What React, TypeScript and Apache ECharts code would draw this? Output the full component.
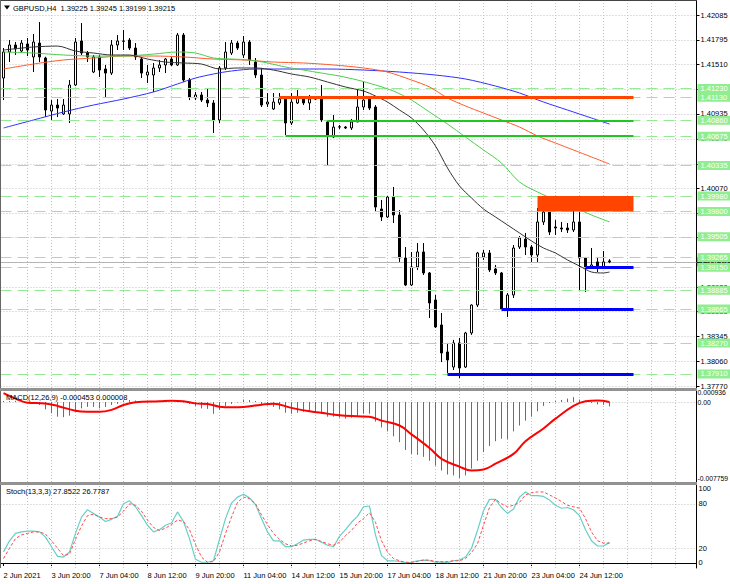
import { useEffect, useRef } from 'react';
import * as echarts from 'echarts';

// ---------- categories (H4 bars) ----------
const dayNames = ['2 Jun', '3 Jun', '4 Jun', '7 Jun', '8 Jun', '9 Jun', '10 Jun', '11 Jun', '14 Jun', '15 Jun', '16 Jun', '17 Jun', '18 Jun', '21 Jun', '22 Jun', '23 Jun', '24 Jun', '25 Jun'];
const hourNames = ['00:00', '04:00', '08:00', '12:00', '16:00', '20:00'];
const timeLabels = ['2 Jun 2021', '3 Jun 20:00', '7 Jun 04:00', '8 Jun 12:00', '9 Jun 20:00', '11 Jun 04:00', '14 Jun 12:00', '15 Jun 20:00', '17 Jun 04:00', '18 Jun 12:00', '21 Jun 20:00', '23 Jun 04:00', '24 Jun 12:00'];

// ---------- OHLC ----------
const opens = [1.41352, 1.41655, 1.41736, 1.41666, 1.41748, 1.41597, 1.41759, 1.41585, 1.40968, 1.41038, 1.40934, 1.40934, 1.41271, 1.41783, 1.41643, 1.41422, 1.41597, 1.41457, 1.41410, 1.41736, 1.41783, 1.41794, 1.41701, 1.41573, 1.41387, 1.41387, 1.41469, 1.41504, 1.41573, 1.41504, 1.41852, 1.41329, 1.41120, 1.41155, 1.41096, 1.41062, 1.40864, 1.41469, 1.41643, 1.41759, 1.41620, 1.41771, 1.41538, 1.41387, 1.41050, 1.40992, 1.41062, 1.41108, 1.40829, 1.41062, 1.41108, 1.41062, 1.41108, 1.41131, 1.40841, 1.40666, 1.40782, 1.40782, 1.40771, 1.40841, 1.41015, 1.41108, 1.41015, 1.39829, 1.39736, 1.39968, 1.39759, 1.39259, 1.38945, 1.39155, 1.39329, 1.39085, 1.38771, 1.38480, 1.38166, 1.37991, 1.38271, 1.37991, 1.38387, 1.38712, 1.39271, 1.39317, 1.39131, 1.39085, 1.38654, 1.38829, 1.39387, 1.39480, 1.39387, 1.39294, 1.39678, 1.39794, 1.39620, 1.39608, 1.39608, 1.39585, 1.39678, 1.39259, 1.39155, 1.39213, 1.39155, 1.39225];
const highs = [1.41701, 1.41794, 1.41771, 1.41794, 1.41817, 1.41864, 1.42004, 1.41600, 1.41096, 1.41108, 1.41108, 1.41329, 1.41817, 1.41992, 1.41666, 1.41620, 1.41620, 1.41504, 1.41794, 1.41852, 1.41911, 1.41817, 1.41759, 1.41597, 1.41504, 1.41527, 1.41562, 1.41585, 1.41597, 1.41876, 1.41876, 1.41352, 1.41190, 1.41190, 1.41236, 1.41096, 1.41492, 1.41771, 1.41794, 1.41783, 1.41841, 1.41794, 1.41585, 1.41469, 1.41178, 1.41178, 1.41178, 1.41131, 1.41178, 1.41213, 1.41131, 1.41155, 1.41131, 1.41271, 1.40864, 1.40922, 1.40806, 1.40794, 1.40876, 1.41213, 1.41306, 1.41131, 1.41038, 1.39934, 1.39980, 1.40085, 1.39817, 1.39387, 1.39329, 1.39433, 1.39433, 1.39096, 1.38829, 1.38619, 1.38271, 1.38306, 1.38329, 1.38400, 1.38720, 1.39330, 1.39352, 1.39352, 1.39178, 1.39096, 1.38852, 1.39410, 1.39515, 1.39550, 1.39410, 1.39840, 1.39957, 1.39957, 1.39700, 1.39678, 1.39666, 1.39852, 1.39794, 1.39271, 1.39375, 1.39259, 1.39340, 1.39245];
const lows = [1.41096, 1.41538, 1.41620, 1.41643, 1.41608, 1.41422, 1.41538, 1.40899, 1.40864, 1.40899, 1.40922, 1.40829, 1.41259, 1.41620, 1.41538, 1.41410, 1.41364, 1.41131, 1.41387, 1.41678, 1.41678, 1.41678, 1.41562, 1.41352, 1.41294, 1.41190, 1.41422, 1.41410, 1.41492, 1.41492, 1.41306, 1.41096, 1.41096, 1.41073, 1.41015, 1.40713, 1.40829, 1.41445, 1.41620, 1.41678, 1.41585, 1.41504, 1.41352, 1.41015, 1.41015, 1.40980, 1.41038, 1.40689, 1.40806, 1.41050, 1.41038, 1.40980, 1.41096, 1.40841, 1.40341, 1.40654, 1.40759, 1.40759, 1.40748, 1.40841, 1.40980, 1.40980, 1.39794, 1.39689, 1.39724, 1.39666, 1.39213, 1.38933, 1.38933, 1.39120, 1.39061, 1.38561, 1.38445, 1.38049, 1.37922, 1.37956, 1.37863, 1.37980, 1.38364, 1.38689, 1.39236, 1.39096, 1.39061, 1.38654, 1.38573, 1.38794, 1.39364, 1.39294, 1.39213, 1.39213, 1.39643, 1.39526, 1.39526, 1.39561, 1.39550, 1.39561, 1.38887, 1.38864, 1.39131, 1.39096, 1.39143, 1.39199];
const closes = [1.41655, 1.41736, 1.41690, 1.41759, 1.41678, 1.41771, 1.41597, 1.40980, 1.41038, 1.41003, 1.41038, 1.41271, 1.41771, 1.41643, 1.41597, 1.41597, 1.41445, 1.41410, 1.41736, 1.41783, 1.41780, 1.41701, 1.41597, 1.41410, 1.41422, 1.41469, 1.41504, 1.41573, 1.41504, 1.41852, 1.41329, 1.41131, 1.41155, 1.41096, 1.41062, 1.40864, 1.41469, 1.41655, 1.41759, 1.41701, 1.41771, 1.41562, 1.41387, 1.41038, 1.41073, 1.41073, 1.41108, 1.40829, 1.41073, 1.41120, 1.41062, 1.41108, 1.41110, 1.40864, 1.40689, 1.40782, 1.40785, 1.40771, 1.40841, 1.41015, 1.41096, 1.41003, 1.39852, 1.39736, 1.39968, 1.39759, 1.39259, 1.38945, 1.39155, 1.39329, 1.39085, 1.38736, 1.38457, 1.38154, 1.38073, 1.38271, 1.37980, 1.38387, 1.38712, 1.39317, 1.39317, 1.39120, 1.39085, 1.38666, 1.38829, 1.39375, 1.39492, 1.39387, 1.39294, 1.39678, 1.39794, 1.39561, 1.39608, 1.39596, 1.39585, 1.39678, 1.39259, 1.39143, 1.39178, 1.39143, 1.39213, 1.39215];

// ---------- moving averages (bar index, price) ----------
const maBlack = [[0, 1.41678], [5, 1.41713], [9, 1.41724], [12, 1.41666], [15, 1.41643], [18, 1.41620], [21, 1.41620], [24, 1.41573], [27, 1.41538], [30, 1.41527], [33, 1.41515], [36, 1.41457], [39, 1.41469], [42, 1.41469], [45, 1.41445], [48, 1.41399], [51, 1.41364], [54, 1.41306], [57, 1.41248], [60, 1.41201], [62, 1.41143], [64, 1.41073], [66, 1.40980], [68, 1.40887], [70, 1.40748], [72, 1.40562], [74, 1.40306], [76, 1.40097], [78, 1.39957], [80, 1.39829], [82, 1.39736], [84, 1.39643], [86, 1.39550], [88, 1.39457], [90, 1.39375], [92, 1.39317], [94, 1.39236], [96, 1.39166], [98, 1.39096], [100, 1.39085], [101, 1.39096]];
const maGreen = [[0, 1.41655], [5, 1.41643], [10, 1.41620], [15, 1.41608], [20, 1.41608], [25, 1.41631], [29, 1.41655], [32, 1.41643], [35, 1.41585], [38, 1.41573], [41, 1.41562], [44, 1.41527], [47, 1.41480], [50, 1.41445], [53, 1.41410], [56, 1.41375], [59, 1.41329], [62, 1.41271], [65, 1.41201], [68, 1.41096], [71, 1.40957], [74, 1.40817], [77, 1.40666], [80, 1.40515], [83, 1.40364], [86, 1.40143], [89, 1.40027], [92, 1.39934], [95, 1.39852], [98, 1.39759], [101, 1.39678]];
const maOrange = [[0, 1.41457], [5, 1.41515], [10, 1.41562], [15, 1.41585], [20, 1.41608], [25, 1.41608], [30, 1.41597], [35, 1.41573], [40, 1.41562], [45, 1.41538], [50, 1.41527], [55, 1.41504], [60, 1.41469], [64, 1.41422], [68, 1.41329], [71, 1.41248], [74, 1.41120], [77, 1.41027], [80, 1.40945], [83, 1.40864], [86, 1.40782], [89, 1.40678], [92, 1.40596], [95, 1.40515], [98, 1.40434], [101, 1.40352]];
const maBlue = [[0, 1.40771], [5, 1.40864], [10, 1.40957], [15, 1.41038], [20, 1.41108], [25, 1.41190], [29, 1.41283], [32, 1.41352], [35, 1.41399], [38, 1.41434], [42, 1.41457], [48, 1.41457], [54, 1.41457], [60, 1.41445], [66, 1.41422], [72, 1.41387], [77, 1.41341], [82, 1.41259], [86, 1.41178], [90, 1.41073], [94, 1.40980], [98, 1.40887], [101, 1.40817]];

// ---------- MACD ----------
const macdHist = [0.0001, 0.0001, 0.00012, 0.00005, -0.0001, -0.0002, -0.0003, -0.00075, -0.00115, -0.0015, -0.00155, -0.0014, -0.001, -0.00065, -0.0005, -0.0005, -0.00065, -0.0005, -0.0003, -0.0002, 0.00014, 0.0002, 0.00015, 0.00005, -0.00005, 0.00003, 0.00005, 0.00008, 0.00006, 0.0001, -0.00005, -0.0002, -0.0004, -0.00065, -0.0007, -0.0012, -0.0008, -0.0004, -0.0002, -0.00005, 0.00025, 0.0002, 0.0001, -0.00025, -0.00035, -0.0005, -0.00075, -0.0011, -0.0012, -0.0011, -0.001, -0.00095, -0.001, -0.0012, -0.0015, -0.0015, -0.0016, -0.0017, -0.0016, -0.0014, -0.0012, -0.0012, -0.002, -0.0026, -0.003, -0.0035, -0.0041, -0.0049, -0.0053, -0.0054, -0.0056, -0.006, -0.0065, -0.007, -0.0074, -0.0075, -0.007759, -0.0075, -0.0068, -0.006, -0.0051, -0.0045, -0.004, -0.00375, -0.0038, -0.003, -0.0024, -0.0019, -0.0015, -0.00095, -0.0004, -0.0001, 0.0001, 0.0002, 0.00035, 0.0005, 0.00025, 0.00005, -0.0001, -0.00025, -0.0003, -0.000453];
const macdSignal = [[0, 0.0009], [2, 0.00035], [4, -0.00007], [7, -0.00015], [9, -0.0004], [12, -0.0009], [14, -0.001], [16, -0.001], [18, -0.0008], [20, -0.0003], [22, -0.00003], [26, 0.00007], [28, 0.00014], [30, 0.00008], [32, -0.00014], [34, -0.0002], [36, -0.00048], [38, -0.00054], [40, -0.0005], [43, -0.00027], [45, -0.00017], [48, -0.0006], [51, -0.00095], [53, -0.0011], [56, -0.00136], [59, -0.00146], [61, -0.0015], [63, -0.0019], [66, -0.0024], [68, -0.0033], [71, -0.0047], [73, -0.0058], [76, -0.0066], [78, -0.007], [80, -0.0069], [82, -0.0063], [85, -0.0053], [87, -0.004], [90, -0.0027], [92, -0.0017], [95, -0.0004], [97, 0.00007], [99, 0.00015], [101, 0.000008]];

// ---------- Stochastic ----------
const stochK = [15, 30, 40, 42, 43, 43, 42, 35, 22, 9, 8, 15, 40, 62, 72, 67, 62, 56, 59, 63, 80, 84, 76, 64, 51, 42, 45, 51, 54, 69, 56, 33, 5, 1, 1, 3, 32, 60, 81, 89, 93, 88, 79, 60, 42, 30, 30, 22, 22, 26, 31, 32, 32, 28, 24, 22, 36, 45, 55, 63, 76, 77, 38, 10, 3, 3, 2, 0.5, 1, 3, 4, 3, 1, 1.5, 0.5, 3, 4, 8, 20, 44, 71, 86, 86, 75, 67, 73, 89, 96, 91, 91, 90, 85, 78, 74, 75, 72, 64, 45, 30, 23, 23, 27.85];
const stochD = [6, 20, 33, 38, 40, 42, 42, 39, 30, 20, 10, 12, 32, 50, 64, 66, 62, 60, 60, 62, 70, 80, 78, 70, 58, 48, 44, 47, 52, 58, 56, 45, 25, 8, 1, 2, 15, 40, 62, 82, 89, 87, 80, 65, 52, 40, 32, 26, 23, 24, 27, 30, 32, 29, 26, 24, 28, 37, 44, 54, 60, 68, 55, 30, 15, 6, 3, 1, 1, 2, 4, 4, 2, 1.5, 2, 3, 3, 6, 14, 26, 51, 75, 86, 80, 76, 78, 82, 92, 95, 96, 96, 92, 88, 83, 78, 76, 74, 60, 42, 30, 27, 26.78];

// ---------- price scale & levels ----------
const priceTicks = [1.42085, 1.41795, 1.4151, 1.4122, 1.40935, 1.40645, 1.40355, 1.4007, 1.3978, 1.39495, 1.39205, 1.3892, 1.38635, 1.38345, 1.3806, 1.3777];
const greenLevels = [1.4123, 1.4113, 1.4086, 1.40675, 1.40335, 1.3998, 1.398, 1.39505, 1.39265, 1.3915, 1.38885, 1.38665, 1.3827, 1.3791];
const lastPrice = 1.39215;
const resistancePrice = 1.4113;
const resistanceFrom = 46;
const greenLinePrices = [1.4086, 1.40675];
const greenLineFrom = [54, 47];
const supportPrices = [1.3915, 1.38665, 1.3791];
const supportFrom = [97, 83, 74];
const zoneTop = 1.3998;
const zoneBottom = 1.398;
const zoneFrom = 89;
const objectsEnd = 105;
const macdTicks = [0.000936, 0, -0.007759];
const stochTicks = [100, 80, 20, 0];
const stochLevels = [80, 20];

const FONT = "'Liberation Sans',Arial,sans-serif";
const FS = 7.5;
const N_BARS = 102;
const N_CATS = 116;

function buildOption() {
  const allTimes: string[] = [];
  dayNames.forEach((d) => hourNames.forEach((h) => allTimes.push(d + ' ' + h)));
  const bars = allTimes.slice(3, 3 + N_BARS);
  const cats = bars.concat(Array.from({ length: N_CATS - N_BARS }, (_, k) => '+' + k));
  const ohlc = opens.map((o, i) => [o, closes[i], lows[i], highs[i]]);
  const histData = macdHist.map((v, i) => [i, v]);

  const vGrid: number[] = [];
  for (let i = 4; i <= 112; i += 4) vGrid.push(i);

  const dotted = { color: '#c2c2c2', width: 1, type: [1, 2] };
  const mlBase = { silent: true, symbol: ['none', 'none'], animation: false, precision: 6 };
  const labelInterval = (idx: number) => idx % 8 === 0 && idx <= 96;

  const xBase = (gi: number) => ({
    type: 'category',
    gridIndex: gi,
    data: cats,
    boundaryGap: true,
    axisLine: { show: false },
    axisTick: { show: false },
    axisLabel: { show: false },
    splitLine: { show: false },
  });

  const vLines = vGrid.map((i) => ({ xAxis: i }));

  const series: any[] = [
    {
      type: 'line', xAxisIndex: 0, yAxisIndex: 0, data: [],
      markLine: { ...mlBase, z: 1, label: { show: false }, lineStyle: dotted, data: [...priceTicks.map((v) => ({ yAxis: v })), ...vLines] },
    },
    {
      type: 'line', xAxisIndex: 0, yAxisIndex: 0, data: [],
      markLine: {
        ...mlBase, z: 3, lineStyle: { color: '#b4b4b4', width: 1, type: 'solid' },
        label: { show: true, position: 'end', distance: 1, formatter: () => lastPrice.toFixed(5), backgroundColor: '#000', color: '#fff', padding: [1, 3, 0, 3], fontSize: FS, lineHeight: 8, fontFamily: FONT },
        data: [{ yAxis: lastPrice }],
      },
    },
    {
      type: 'line', xAxisIndex: 0, yAxisIndex: 0, data: [],
      markLine: {
        ...mlBase, z: 4, lineStyle: { color: '#95e895', width: 1, type: [11, 6] },
        label: { show: true, position: 'end', distance: 1, formatter: (p: any) => Number(p.value).toFixed(5), backgroundColor: '#90ee90', color: '#ffffff', padding: [1, 3, 0, 3], fontSize: FS, lineHeight: 8, fontFamily: FONT },
        data: greenLevels.map((v) => ({ yAxis: v })),
      },
    },
    {
      type: 'candlestick', xAxisIndex: 0, yAxisIndex: 0, data: ohlc, barWidth: 2, z: 3,
      itemStyle: { color: '#ffffff', color0: '#000000', borderColor: '#000000', borderColor0: '#000000', borderColorDoji: '#000000', borderWidth: 1 },
    },
    { type: 'line', xAxisIndex: 0, yAxisIndex: 0, data: maBlue, smooth: 0.3, symbol: 'none', z: 4, lineStyle: { color: '#2f2fff', width: 1 } },
    { type: 'line', xAxisIndex: 0, yAxisIndex: 0, data: maOrange, smooth: 0.3, symbol: 'none', z: 4, lineStyle: { color: '#ff5a2a', width: 1 } },
    { type: 'line', xAxisIndex: 0, yAxisIndex: 0, data: maGreen, smooth: 0.3, symbol: 'none', z: 4, lineStyle: { color: '#4ccc4c', width: 1 } },
    { type: 'line', xAxisIndex: 0, yAxisIndex: 0, data: maBlack, smooth: 0.3, symbol: 'none', z: 4, lineStyle: { color: '#333333', width: 1 } },
    {
      type: 'line', xAxisIndex: 0, yAxisIndex: 0, data: [],
      markLine: {
        ...mlBase, z: 6, label: { show: false },
        data: [
          [{ coord: [resistanceFrom, resistancePrice], lineStyle: { color: '#ff4500', width: 3, type: 'solid' } }, { coord: [objectsEnd, resistancePrice] }],
          ...greenLinePrices.map((p, k) => [{ coord: [greenLineFrom[k], p], lineStyle: { color: '#1ec81e', width: 2, type: 'solid' } }, { coord: [objectsEnd, p] }]),
          ...supportPrices.map((p, k) => [{ coord: [supportFrom[k], p], lineStyle: { color: '#0000ff', width: 3, type: 'solid' } }, { coord: [objectsEnd, p] }]),
        ],
      },
      markArea: {
        silent: true, z: 6, itemStyle: { color: '#ff4500', opacity: 1 },
        data: [[{ coord: [zoneFrom, zoneTop] }, { coord: [objectsEnd, zoneBottom] }]],
      },
    },
    {
      type: 'line', xAxisIndex: 1, yAxisIndex: 1, data: [],
      markLine: { ...mlBase, z: 1, label: { show: false }, lineStyle: dotted, data: [{ yAxis: 0 }, ...vLines] },
    },
    {
      type: 'custom', xAxisIndex: 1, yAxisIndex: 1, data: histData, z: 3, silent: true,
      encode: { x: 0, y: 1 },
      renderItem: (_params: any, api: any) => {
        const p0 = api.coord([api.value(0), 0]);
        const p1 = api.coord([api.value(0), api.value(1)]);
        return {
          type: 'line',
          shape: { x1: p0[0], y1: p0[1], x2: p1[0], y2: p1[1] },
          style: { stroke: '#5a5aff', lineWidth: 1 },
        };
      },
    },
    { type: 'line', xAxisIndex: 1, yAxisIndex: 1, data: macdSignal, smooth: 0.4, symbol: 'none', z: 4, lineStyle: { color: '#ff0000', width: 2 } },
    {
      type: 'line', xAxisIndex: 2, yAxisIndex: 2, data: [],
      markLine: { ...mlBase, z: 1, label: { show: false }, lineStyle: dotted, data: [...stochLevels.map((v) => ({ yAxis: v })), ...vLines] },
    },
    { type: 'line', xAxisIndex: 2, yAxisIndex: 2, data: stochK, symbol: 'none', z: 4, lineStyle: { color: '#66cfc6', width: 1.2 } },
    { type: 'line', xAxisIndex: 2, yAxisIndex: 2, data: stochD, symbol: 'none', z: 4, lineStyle: { color: '#ff4a4a', width: 1, type: [3, 2] } },
  ];

  const yLabel = { show: true, color: '#000', fontSize: FS, fontFamily: FONT };
  const textStyleG = { fontSize: FS, fontFamily: FONT, fill: '#000', verticalAlign: 'middle' };

  return {
    animation: false,
    backgroundColor: '#ffffff',
    textStyle: { fontFamily: FONT },
    grid: [
      { left: 0.5, top: 1, width: 696, height: 387, outerBoundsMode: 'none' },
      { left: 0.5, top: 391, width: 696, height: 91, outerBoundsMode: 'none' },
      { left: 0.5, top: 485, width: 696, height: 83, outerBoundsMode: 'none' },
    ],
    xAxis: [
      xBase(0),
      xBase(1),
      {
        ...xBase(2),
        axisLine: { show: true, lineStyle: { color: '#000', width: 1 } },
        axisTick: { show: true, interval: labelInterval, alignWithLabel: true, length: 3, lineStyle: { color: '#000' } },
        axisLabel: { show: true, interval: labelInterval, formatter: (_v: string, idx: number) => timeLabels[idx / 8] || '', align: 'left', margin: 3, color: '#000', fontSize: FS, fontFamily: FONT },
      },
    ],
    yAxis: [
      {
        type: 'value', gridIndex: 0, position: 'right', min: 1.37747, max: 1.42248,
        axisLine: { show: true, lineStyle: { color: '#000' } },
        axisTick: { show: true, customValues: priceTicks, length: 3, lineStyle: { color: '#000' } },
        axisLabel: { ...yLabel, customValues: priceTicks, formatter: (v: number) => v.toFixed(5), margin: 4 },
        splitLine: { show: false },
      },
      {
        type: 'value', gridIndex: 1, position: 'right', min: -0.008167, max: 0.001123,
        axisLine: { show: true, lineStyle: { color: '#000' } },
        axisTick: { show: false },
        axisLabel: { ...yLabel, fontSize: 6.8, customValues: macdTicks, formatter: (v: number) => (v === 0 ? '0.00' : v.toFixed(6)), margin: 1 },
        splitLine: { show: false },
      },
      {
        type: 'value', gridIndex: 2, position: 'right', min: -6.76, max: 105.4,
        axisLine: { show: true, lineStyle: { color: '#000' } },
        axisTick: { show: false },
        axisLabel: { ...yLabel, customValues: stochTicks, formatter: (v: number) => String(v), margin: 2 },
        splitLine: { show: false },
      },
    ],
    series,
    graphic: [
      { type: 'rect', z: 100, silent: true, shape: { x: 0, y: 0, width: 697, height: 1 }, style: { fill: '#444' } },
      { type: 'rect', z: 100, silent: true, shape: { x: 0, y: 0, width: 1, height: 568 }, style: { fill: '#666' } },
      { type: 'rect', z: 100, silent: true, shape: { x: 0, y: 388, width: 697, height: 3 }, style: { fill: '#929292' } },
      { type: 'rect', z: 100, silent: true, shape: { x: 0, y: 482, width: 697, height: 3 }, style: { fill: '#929292' } },
      { type: 'polygon', z: 100, silent: true, shape: { points: [[4, 5.5], [10, 5.5], [7, 9.5]] }, style: { fill: '#000' } },
      { type: 'text', z: 100, silent: true, x: 13, y: 8, style: { ...textStyleG, text: 'GBPUSD,H4  1.39225 1.39245 1.39199 1.39215' } },
      { type: 'text', z: 100, silent: true, x: 6, y: 397, style: { ...textStyleG, text: 'MACD(12,26,9) -0.000453 0.000008' } },
      { type: 'text', z: 100, silent: true, x: 6, y: 491, style: { ...textStyleG, text: 'Stoch(13,3,3) 27.8522 26.7787' } },
    ],
  };
}

export default function App() {
  const ref = useRef<HTMLDivElement>(null);
  useEffect(() => {
    document.body.style.margin = '0';
    const chart = echarts.init(ref.current as HTMLDivElement, null, { renderer: 'svg', width: 730, height: 584 });
    chart.setOption(buildOption() as any);
    return () => chart.dispose();
  }, []);
  return <div ref={ref} style={{ width: 730, height: 584, background: '#fff' }} />;
}
